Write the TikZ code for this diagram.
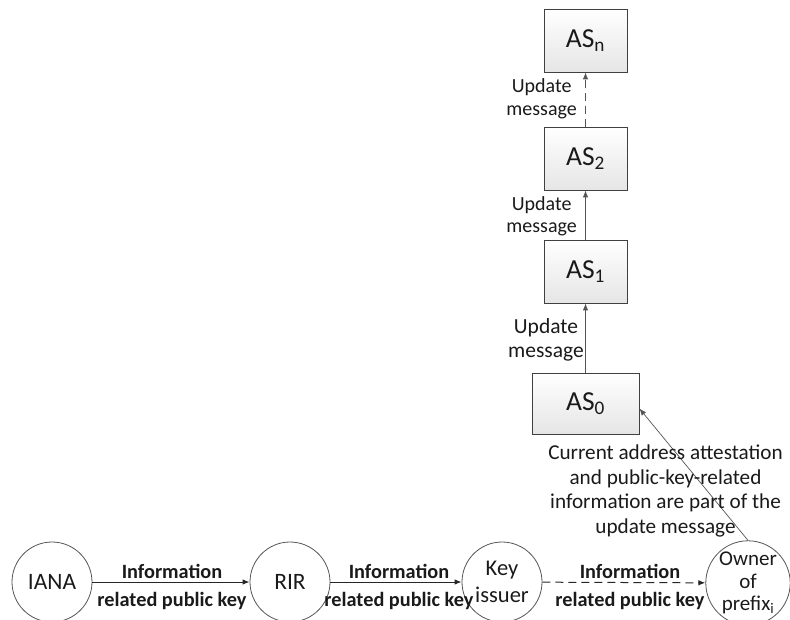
\documentclass[tikz,border=0pt]{standalone}
\usepackage{fontspec}
\setmainfont{Carlito}
\usetikzlibrary{arrows.meta}
\definecolor{linegray}{HTML}{555555}
\definecolor{linedark}{HTML}{262626}
\definecolor{boxedge}{HTML}{404040}
\definecolor{inktext}{HTML}{1A1A1A}
\begin{document}
\begin{tikzpicture}[x=1pt,y=-1pt,
  asbox/.style={draw=boxedge,line width=0.8pt,top color=white,bottom color=black!10,
    minimum width=83pt,minimum height=63pt,inner sep=0pt,text=inktext,
    font=\fontsize{27.5}{30}\selectfont},
  party/.style={draw=linegray,line width=0.8pt,circle,minimum size=80pt,inner sep=0pt,
    text=inktext,align=center},
  flow/.style={draw=linegray,line width=0.9pt,-{Latex[length=7pt,width=5.5pt]}},
  dashflow/.style={flow,dash pattern=on 8pt off 5pt},
  hflow/.style={flow,draw=linedark,line width=1pt},
  updlabel/.style={anchor=east,inner sep=0pt,align=center,text=inktext,
    font=\fontsize{20}{22.5}\selectfont},
  infolabel/.style={inner sep=0pt,align=center,text=inktext,
    font=\fontsize{20.3}{28}\selectfont\bfseries}]
\useasboundingbox (0,0) rectangle (790,619);

% chain of autonomous systems
\node[asbox] (asn) at (585.5,40.5) {AS\textsubscript{n}};
\node[asbox] (as2) at (585.5,158.5) {AS\textsubscript{2}};
\node[asbox] (as1) at (585.5,271.5) {AS\textsubscript{1}};
\node[asbox,minimum width=107pt,minimum height=61pt] (as0) at (585.5,403.5) {AS\textsubscript{0}};

% key hierarchy along the bottom
\node[party,font=\fontsize{23.5}{26}\selectfont] (iana) at (52,582) {IANA};
\node[party,font=\fontsize{23.5}{26}\selectfont] (rir) at (290,582) {RIR};
\node[party,font=\fontsize{22.5}{27}\selectfont] (key) at (502,582) {Key\\issuer};
\node[party,font=\fontsize{21}{22.5}\selectfont] (owner) at (748,583) {Owner\\of\\prefix\textsubscript{i}};

% update propagation
\draw[flow] (as0) -- (as1);
\draw[flow] (as1) -- (as2);
\draw[dashflow] (as2) -- (asn);
\node[updlabel,font=\fontsize{21.5}{24}\selectfont] (u0) at (584,340) {Update\\message};
\node[updlabel] (u1) at (577,216.5) {Update\\message};
\node[updlabel] (u2) at (577,99) {Update\\message};

% key distribution
\draw[hflow] (iana) -- (rir);
\draw[hflow] (rir) -- (key);
\draw[hflow,dash pattern=on 8pt off 5pt] (key) -- (owner);
\node[infolabel] (i1) at (172,587) {Information\\related public key};
\node[infolabel] (i2) at (399,587) {Information\\related public key};
\node[infolabel] (i3) at (630,587) {Information\\related public key};

% owner injects the attested announcement
\draw[flow,line width=0.7pt] (owner.north) -- ([yshift=-5pt]as0.east);
\node[inner sep=0pt,align=center,text=inktext,font=\fontsize{21.2}{24.5}\selectfont]
  (note) at (665.5,491) {Current address attestation\\and public-key-related\\information are part of the\\update message};
\end{tikzpicture}
\end{document}
